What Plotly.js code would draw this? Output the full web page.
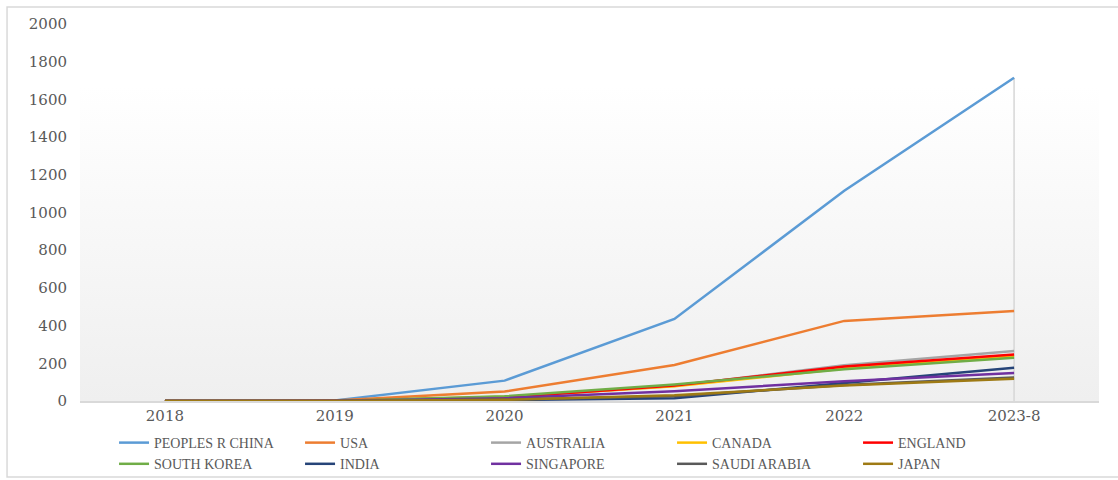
<!DOCTYPE html>
<html>
<head>
<meta charset="utf-8">
<script src="https://cdn.plot.ly/plotly-3.0.1.min.js"></script>
<style>
html,body{margin:0;padding:0;background:#fff;}
#chart{width:1118px;height:480px;}
</style>
</head>
<body>
<div id="chart"></div>
<script>
const years = ["2018", "2019", "2020", "2021", "2022", "2023-8"];
const seriesNames = ["PEOPLES R CHINA", "USA", "AUSTRALIA", "CANADA", "ENGLAND",
                     "SOUTH KOREA", "INDIA", "SINGAPORE", "SAUDI ARABIA", "JAPAN"];
const china       = [0, 3, 108, 435, 1115, 1715];
const usa         = [0, 2, 50, 191, 425, 478];
const australia   = [0, 1, 20, 80, 190, 265];
const canada      = [0, 0, 22, 78, 172, 238];
const england     = [0, 1, 18, 82, 183, 247];
const southKorea  = [0, 0, 25, 88, 168, 230];
const india       = [0, 0, 5, 14, 95, 177];
const singapore   = [0, 0, 15, 52, 105, 148];
const saudiArabia = [0, 0, 8, 25, 85, 125];
const japan       = [0, 0, 6, 30, 82, 118];
const yTicks = [0, 200, 400, 600, 800, 1000, 1200, 1400, 1600, 1800, 2000];

const seriesValues = [china, usa, australia, canada, england, southKorea, india, singapore, saudiArabia, japan];
const colors = ["#5B9BD5", "#ED7D31", "#A5A5A5", "#FFC000", "#FF0000",
                "#70AD47", "#264478", "#7030A0", "#595959", "#9E7A14"];

const traces = seriesNames.map((name, i) => ({
  type: "scatter", mode: "lines", name: name,
  x: years, y: seriesValues[i],
  line: {color: colors[i], width: 2.5},
  hoverinfo: "skip"
}));

// drop lines from highest value down to axis
const dropShapes = years.map((yr, j) => ({
  type: "line", xref: "x", yref: "y", layer: "below",
  x0: yr, x1: yr, y0: 0, y1: Math.max(...seriesValues.map(s => s[j])),
  line: {color: "#d6d6d6", width: 1.5}
}));

const grad = 'data:image/svg+xml;utf8,' + encodeURIComponent(
  '<svg xmlns="http://www.w3.org/2000/svg" width="100" height="100" preserveAspectRatio="none">' +
  '<defs><linearGradient id="g" x1="0" y1="0" x2="0" y2="1">' +
  '<stop offset="0" stop-color="#ffffff"/><stop offset="1" stop-color="#efefef"/></linearGradient></defs>' +
  '<rect width="100" height="100" fill="url(#g)"/></svg>');

const layout = {
  width: 1118, height: 480,
  margin: {l: 80, r: 19, t: 24, b: 79},
  paper_bgcolor: "#ffffff", plot_bgcolor: "rgba(0,0,0,0)",
  showlegend: true,
  font: {family: "DejaVu Serif", color: "#595959"},
  xaxis: {
    type: "category", range: [-0.5, 5.5],
    showgrid: false, zeroline: false,
    showline: true, linecolor: "#d9d9d9", linewidth: 1.5,
    ticks: "", tickfont: {family: "DejaVu Serif", size: 15, color: "#595959"}
  },
  yaxis: {
    range: [0, 2000], tickvals: yTicks, ticktext: yTicks.map(String),
    showgrid: false, zeroline: false, showline: false, ticks: "",
    ticklabelstandoff: 12,
    tickfont: {family: "DejaVu Serif", size: 15, color: "#595959"}
  },
  legend: {
    orientation: "h", xref: "container", yref: "container",
    x: 0.102, xanchor: "left", y: 0.1104, yanchor: "top",
    entrywidth: 141, entrywidthmode: "pixels",
    font: {family: "Liberation Serif", size: 14, color: "#595959"},
    bgcolor: "rgba(0,0,0,0)", traceorder: "normal"
  },
  images: [{
    source: grad, xref: "paper", yref: "y", x: 0, y: 1666,
    sizex: 1, sizey: 1666, sizing: "stretch", xanchor: "left", yanchor: "top",
    layer: "below"
  }],
  shapes: [
    {type: "rect", xref: "paper", yref: "paper", x0: -0.0716, x1: 1.02, y0: -0.2016, y1: 1.045,
     line: {color: "#d9d9d9", width: 1.5}, fillcolor: "rgba(0,0,0,0)", layer: "below"}
  ].concat(dropShapes)
};

Plotly.newPlot("chart", traces, layout, {displayModeBar: false, staticPlot: true});
</script>
</body>
</html>
